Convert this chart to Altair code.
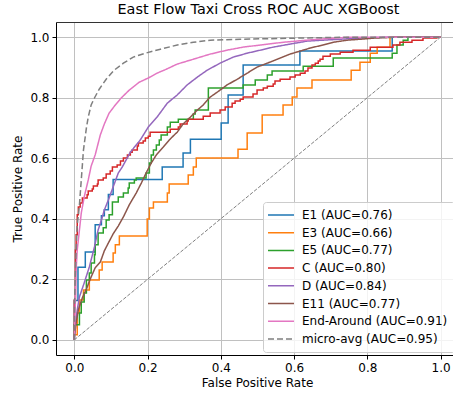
import altair as alt
import pandas as pd

# ---- data ----
series_names = ["E1", "E3", "E5", "C", "D", "E11", "End-Around", "micro-avg"]
auc_values = [0.76, 0.66, 0.77, 0.80, 0.84, 0.77, 0.91, 0.95]
series_colors = ["#1f77b4", "#ff7f0e", "#2ca02c", "#d62728", "#9467bd",
                 "#8c564b", "#e377c2", "#7f7f7f"]
tick_values = [0.0, 0.2, 0.4, 0.6, 0.8, 1.0]

# step curves: (fpr where the curve jumps, tpr after the jump)
E1_fpr = [0, 0, 0.01, 0.03, 0.057, 0.074, 0.082, 0.093, 0.106, 0.24, 0.297, 0.317,
          0.401, 0.42, 0.461, 0.616, 0.868, 1.0]
E1_tpr = [0, 0.13, 0.24, 0.29, 0.38, 0.41, 0.43, 0.48, 0.53, 0.571, 0.617, 0.663,
          0.716, 0.809, 0.908, 0.954, 1.0, 1.0]

E3_fpr = [0, 0, 0.008, 0.014, 0.025, 0.041, 0.068, 0.076, 0.106, 0.112, 0.123, 0.199,
          0.205, 0.216, 0.254, 0.259, 0.311, 0.325, 0.333, 0.447, 0.472, 0.513, 0.570,
          0.595, 0.608, 0.649, 0.756, 0.780, 0.808, 0.827, 0.862, 1.0]
E3_tpr = [0, 0.017, 0.089, 0.132, 0.165, 0.198, 0.231, 0.257, 0.287, 0.314, 0.343, 0.399,
          0.436, 0.455, 0.485, 0.515, 0.545, 0.571, 0.601, 0.630, 0.683, 0.743, 0.776,
          0.802, 0.832, 0.858, 0.891, 0.917, 0.947, 0.967, 1.0, 1.0]

E5_fpr = [0, 0, 0.014, 0.019, 0.027, 0.033, 0.041, 0.046, 0.055, 0.057, 0.065, 0.079,
          0.087, 0.095, 0.104, 0.120, 0.134, 0.147, 0.150, 0.164, 0.169, 0.196, 0.205,
          0.210, 0.216, 0.224, 0.232, 0.237, 0.254, 0.262, 0.284, 0.325, 0.330, 0.366,
          0.461, 0.494, 0.527, 0.540, 0.625, 0.707, 0.868, 0.881, 0.898, 0.911, 1.0]
E5_tpr = [0, 0.05, 0.089, 0.125, 0.155, 0.198, 0.221, 0.254, 0.281, 0.314, 0.353, 0.370,
          0.396, 0.413, 0.455, 0.472, 0.485, 0.502, 0.518, 0.528, 0.535, 0.551, 0.584,
          0.611, 0.627, 0.644, 0.660, 0.677, 0.703, 0.719, 0.729, 0.746, 0.759, 0.832,
          0.842, 0.858, 0.875, 0.888, 0.904, 0.931, 0.947, 0.974, 0.990, 1.0, 1.0]

C_fpr = [0, 0, 0.003, 0.005, 0.008, 0.011, 0.016, 0.022, 0.035, 0.038, 0.049, 0.052,
         0.063, 0.065, 0.079, 0.087, 0.098, 0.104, 0.117, 0.126, 0.134, 0.145, 0.153,
         0.158, 0.172, 0.175, 0.188, 0.194, 0.202, 0.207, 0.262, 0.284, 0.289, 0.308,
         0.311, 0.352, 0.371, 0.398, 0.412, 0.431, 0.439, 0.453, 0.461, 0.488, 0.499,
         0.516, 0.527, 0.543, 0.548, 0.562, 0.589, 0.603, 0.617, 0.630, 0.638, 0.649,
         0.658, 0.666, 0.671, 0.679, 0.699, 0.726, 0.761, 0.808, 0.870, 0.889, 0.922,
         0.952, 0.990, 1.0]
C_tpr = [0, 0.132, 0.297, 0.347, 0.413, 0.439, 0.452, 0.469, 0.479, 0.492, 0.498, 0.508,
         0.515, 0.528, 0.535, 0.548, 0.558, 0.571, 0.578, 0.591, 0.601, 0.611, 0.620,
         0.627, 0.640, 0.650, 0.657, 0.667, 0.673, 0.686, 0.696, 0.703, 0.713, 0.723,
         0.729, 0.739, 0.749, 0.759, 0.769, 0.782, 0.789, 0.795, 0.802, 0.812, 0.825,
         0.832, 0.838, 0.845, 0.855, 0.861, 0.868, 0.875, 0.881, 0.888, 0.898, 0.908,
         0.914, 0.921, 0.927, 0.937, 0.944, 0.950, 0.957, 0.967, 0.974, 0.983, 0.990,
         0.997, 1.0, 1.0]

# dense curves: points along the curve
D_fpr = [0, 0.003, 0.008, 0.014, 0.027, 0.041, 0.055, 0.065, 0.074, 0.082, 0.093, 0.106,
         0.120, 0.131, 0.153, 0.180, 0.202, 0.226, 0.254, 0.281, 0.308, 0.336, 0.363,
         0.398, 0.434, 0.472, 0.508, 0.543, 0.589, 0.636, 0.679, 0.726, 0.780, 0.862, 1.0]
D_tpr = [0, 0.050, 0.099, 0.142, 0.188, 0.241, 0.307, 0.363, 0.396, 0.429, 0.462, 0.505,
         0.551, 0.571, 0.620, 0.660, 0.703, 0.736, 0.782, 0.809, 0.842, 0.868, 0.891,
         0.914, 0.934, 0.947, 0.957, 0.967, 0.977, 0.987, 0.990, 0.993, 0.997, 1.0, 1.0]

E11_fpr = [0, 0, 0.005, 0.011, 0.022, 0.033, 0.046, 0.057, 0.071, 0.082, 0.093, 0.106,
           0.120, 0.134, 0.150, 0.169, 0.183, 0.196, 0.210, 0.224, 0.243, 0.259, 0.273,
           0.281, 0.297, 0.317, 0.336, 0.352, 0.371, 0.390, 0.417, 0.445, 0.472, 0.499,
           0.527, 0.554, 0.589, 0.617, 0.644, 0.679, 0.707, 0.745, 0.780, 0.821, 0.889, 1.0]
E11_tpr = [0, 0.010, 0.056, 0.099, 0.139, 0.168, 0.208, 0.238, 0.257, 0.294, 0.320, 0.350,
           0.376, 0.406, 0.446, 0.485, 0.518, 0.551, 0.584, 0.611, 0.637, 0.660, 0.677,
           0.686, 0.713, 0.736, 0.759, 0.776, 0.802, 0.818, 0.842, 0.861, 0.881, 0.901,
           0.914, 0.927, 0.944, 0.954, 0.964, 0.974, 0.983, 0.990, 0.993, 0.997, 1.0, 1.0]

EA_fpr = [0, 0.003, 0.005, 0.008, 0.014, 0.019, 0.027, 0.038, 0.046, 0.057, 0.071, 0.082,
          0.095, 0.112, 0.128, 0.150, 0.177, 0.202, 0.226, 0.251, 0.281, 0.325, 0.371,
          0.417, 0.461, 0.508, 0.570, 0.663, 0.753, 1.0]
EA_tpr = [0, 0.132, 0.231, 0.297, 0.363, 0.419, 0.472, 0.528, 0.574, 0.611, 0.677, 0.713,
          0.749, 0.776, 0.799, 0.825, 0.851, 0.865, 0.881, 0.894, 0.911, 0.927, 0.944,
          0.957, 0.967, 0.974, 0.983, 0.993, 1.0, 1.0]

MA_fpr = [0, 0.001, 0.003, 0.005, 0.008, 0.014, 0.019, 0.025, 0.033, 0.038, 0.046, 0.055,
          0.068, 0.087, 0.109, 0.134, 0.161, 0.194, 0.235, 0.281, 0.325, 0.371, 0.453,
          0.617, 0.753, 1.0]
MA_tpr = [0, 0.132, 0.231, 0.297, 0.380, 0.446, 0.528, 0.627, 0.700, 0.736, 0.776, 0.799,
          0.828, 0.861, 0.891, 0.914, 0.934, 0.947, 0.960, 0.974, 0.983, 0.990, 0.993,
          0.997, 1.0, 1.0]

chance_fpr = [0.0, 1.0]
chance_tpr = [0.0, 1.0]

# ---- tables ----
labels = [f"{n} (AUC={a:.2f})" for n, a in zip(series_names, auc_values)]
curves = [(E1_fpr, E1_tpr, "step"), (E3_fpr, E3_tpr, "step"), (E5_fpr, E5_tpr, "step"),
          (C_fpr, C_tpr, "step"), (D_fpr, D_tpr, "smooth"), (E11_fpr, E11_tpr, "smooth"),
          (EA_fpr, EA_tpr, "smooth"), (MA_fpr, MA_tpr, "smooth")]
rows = []
for k, (lab, (fx, ty, kind)) in enumerate(zip(labels, curves)):
    for i, (f, t) in enumerate(zip(fx, ty)):
        rows.append({"label": lab, "fpr": f, "tpr": t, "order": i, "kind": kind, "z": k})
df = pd.DataFrame(rows)
chance_df = pd.DataFrame({"fpr": chance_fpr, "tpr": chance_tpr})

FONT = "DejaVu Sans"
x_scale = alt.Scale(domain=[-0.05, 1.034], nice=False, zero=False)
y_scale = alt.Scale(domain=[-0.05, 1.05], nice=False, zero=False)
x_axis = alt.Axis(values=tick_values, format=".1f", title="False Positive Rate",
                  grid=True, titleX=201, titlePadding=4)
y_axis = alt.Axis(values=tick_values, format=".1f", title="True Positive Rate",
                  grid=True, titlePadding=5)

# legend symbol: a horizontal line drawn as a custom path (long line, small layout size)
legend = alt.Legend(title=None, orient="none", legendX=207, legendY=180,
                    symbolType="M-2.6,0H2.6", symbolSize=100, symbolStrokeWidth=1.5,
                    symbolOffset=5, symbolFillColor="transparent",
                    labelFontSize=12, labelFont=FONT, labelOffset=15, rowPadding=5.7,
                    padding=7, fillColor="rgba(255,255,255,0.8)", strokeColor="#cccccc",
                    cornerRadius=3, labelLimit=300)
color = alt.Color("label:N", scale=alt.Scale(domain=labels, range=series_colors),
                  legend=legend)
dash = alt.StrokeDash("label:N",
                      scale=alt.Scale(domain=labels, range=[[1, 0]] * 7 + [[6, 3]]),
                      legend=legend)

step_layer = alt.Chart(df[df["kind"] == "step"]).mark_line(
    interpolate="step-after", strokeWidth=1.5, clip=True
).encode(
    x=alt.X("fpr:Q", scale=x_scale, axis=x_axis),
    y=alt.Y("tpr:Q", scale=y_scale, axis=y_axis),
    color=color, strokeDash=dash, order="order:Q",
)

smooth_layer = alt.Chart(df[df["kind"] == "smooth"]).mark_line(
    strokeWidth=1.5, clip=True
).encode(
    x=alt.X("fpr:Q", scale=x_scale, axis=None),
    y=alt.Y("tpr:Q", scale=y_scale, axis=y_axis),
    color=color, strokeDash=dash, order="order:Q",
)

chance_layer = alt.Chart(chance_df).mark_line(
    strokeDash=[3.7, 1.6], strokeWidth=1, color="#808080", clip=True
).encode(
    x=alt.X("fpr:Q", scale=x_scale,
            axis=alt.Axis(orient="top", labels=False, ticks=False, grid=False,
                          title=None, domainColor="#333333")),
    y=alt.Y("tpr:Q", scale=y_scale, axis=y_axis),
)

chart = alt.layer(step_layer, smooth_layer, chance_layer).resolve_axis(
    x="independent"
).properties(
    width=397, height=333,
    autosize=alt.AutoSizeParams(type="none"),
    padding={"left": 56, "top": 22, "right": 0, "bottom": 43},
    title=alt.Title("East Flow Taxi Cross ROC AUC XGBoost", fontSize=14.4, font=FONT,
                    fontWeight="normal", color="black", offset=5, dx=4),
).configure_view(
    strokeWidth=0
).configure_axis(
    labelFont=FONT, titleFont=FONT, labelFontSize=12, titleFontSize=12,
    labelColor="black", titleColor="black", titleFontWeight="normal",
    tickColor="black", domainColor="black", gridColor="#c0c0c0", gridWidth=1,
    tickSize=4, labelPadding=3,
).configure_legend(
    labelFont=FONT, labelFontSize=12, labelColor="black"
)

chart.save("out.html", embed_options={"renderer": "svg", "actions": False})
